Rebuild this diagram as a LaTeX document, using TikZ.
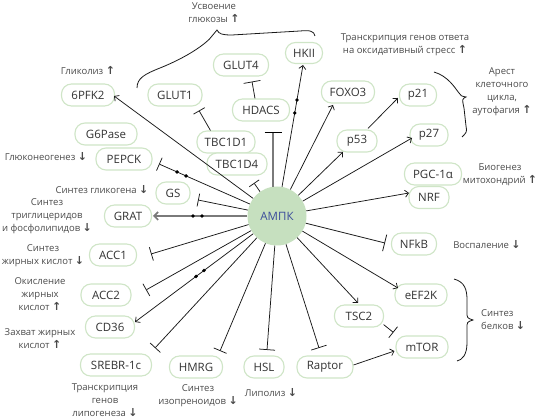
\documentclass[tikz,border=0pt]{standalone}
\usepackage{fontspec}
\setmainfont{Open Sans}
\newfontfamily\arrfont{DejaVu Sans}
\usetikzlibrary{arrows.meta,calc}
\definecolor{boxgreen}{HTML}{CFE5C7}
\definecolor{ampkfill}{HTML}{C6E0BF}
\definecolor{ampktext}{HTML}{3B4C9B}
\definecolor{txt}{HTML}{333333}
\definecolor{lbl}{HTML}{4A4A4A}
\definecolor{grayline}{HTML}{7A7A7A}
\newcommand\arrU{{\arrfont\bfseries\fontsize{11}{11}\selectfont\char"2191}}
\newcommand\arrD{{\arrfont\bfseries\fontsize{11}{11}\selectfont\char"2193}}
\begin{document}
\begin{tikzpicture}[x=1pt,y=-1pt,
  box/.style={draw=boxgreen,line width=1.1pt,rounded corners=10pt,fill=white,minimum height=22pt,inner sep=0pt,font=\fontsize{11.5}{13}\selectfont,text=txt},
  lab/.style={font=\fontsize{9.5}{13}\selectfont,text=lbl,align=center,inner sep=0pt},
  con/.style={line width=0.75pt,draw=black!90},
  act/.style={con,-{Straight Barb[length=3.5pt,width=7pt]}},
  inh/.style={con,-{Bar[width=14pt]}},
  grayact/.style={line width=1.6pt,draw=grayline,-{Straight Barb[length=4pt,width=8pt]}},
  grayinh/.style={line width=1.6pt,draw=grayline,-{Bar[width=17pt,line width=0.8pt,color=black]}},
  brace/.style={line width=0.8pt,draw=black!90}]
\useasboundingbox (0,0) rectangle (542,419);

% central node
\node[circle,fill=ampkfill,minimum size=59pt,inner sep=0pt,text=ampktext,font=\fontsize{11.5}{13}\selectfont] (ampk) at (277,216) {АМПК};

% boxes
\node[box,minimum width=53pt] (pfk) at (88,95) {6PFK2};
\node[box,minimum width=54pt] (glut1) at (175,95) {GLUT1};
\node[box,minimum width=55pt] (glut4) at (241,65) {GLUT4};
\node[box,minimum width=37pt,minimum height=21pt] (hkii) at (304,53) {HKII};
\node[box,minimum width=57pt] (hdacs) at (261,110) {HDACS};
\node[box,minimum width=53pt] (foxo) at (348,92) {FOXO3};
\node[box,minimum width=37pt] (p21) at (418,95) {p21};
\node[box,minimum width=38pt] (p27) at (429,135) {p27};
\node[box,minimum width=40pt] (p53) at (357,141) {p53};
\node[box,minimum width=57pt] (pgc) at (433,174) {PGC-1α};
\node[box,minimum width=40pt] (nrf) at (429,197.5) {NRF};
\node[box,minimum width=45pt] (nfkb) at (414,244) {NFkB};
\node[box,minimum width=52pt] (eef) at (421,295) {eEF2K};
\node[box,minimum width=49pt] (tsc) at (359,316) {TSC2};
\node[box,minimum width=52pt] (mtor) at (422,347) {mTOR};
\node[box,minimum width=56pt] (raptor) at (325,367) {Raptor};
\node[box,minimum width=40pt] (hsl) at (264,367) {HSL};
\node[box,minimum width=53pt] (hmrg) at (196,367) {HMRG};
\node[box,minimum width=71pt] (srebr) at (116,365) {SREBR-1c};
\node[box,minimum width=49pt] (cd36) at (110,327) {CD36};
\node[box,minimum width=50pt] (acc2) at (106,295) {ACC2};
\node[box,minimum width=47pt] (acc1) at (113,255) {ACC1};
\node[box,minimum width=47pt] (grat) at (128,216) {GRAT};
\node[box,minimum width=34pt] (gs) at (173,193) {GS};
\node[box,minimum width=62pt] (g6p) at (106,134) {G6Pase};
\node[box,minimum width=56pt] (pepck) at (124,159) {PEPCK};
\node[box,minimum width=58pt] (tbc1) at (226,142) {TBC1D1};
\node[box,minimum width=60pt] (tbc4) at (237,164) {TBC1D4};

% labels
\node[lab] (l-gly) at (88,71) {Гликолиз \arrU};
\node[lab] (l-glc) at (214,13) {Усвоение\\глюкозы \arrU};
\node[lab] (l-ox) at (405,44.5) {Транскрипция генов ответа\\на оксидативный стресс \arrU};
\node[lab] (l-cc) at (502,91.5) {Арест\\клеточного\\цикла,\\аутофагия \arrU};
\node[lab] (l-mit) at (500,174.5) {Биогенез\\митохондрий \arrU};
\node[lab] (l-inf) at (487,245) {Воспаление \arrD};
\node[lab,align=left,anchor=west] (l-prot) at (481,319.5) {Синтез\\белков \arrD};
\node[lab] (l-lip) at (271,393) {Липолиз \arrD};
\node[lab] (l-iso) at (198,395.5) {Синтез\\изопреноидов \arrD};
\node[lab] (l-lg) at (105,400.5) {Транскрипция\\генов\\липогенеза \arrD};
\node[lab] (l-fau) at (40,338.5) {Захват жирных\\кислот \arrU};
\node[lab] (l-fao) at (40,294) {Окисление\\жирных\\кислот \arrU};
\node[lab] (l-fas) at (43,256) {Синтез\\жирных кислот \arrD};
\node[lab] (l-tg) at (47,216) {Синтез\\триглицеридов\\и фосфолипидов \arrD};
\node[lab] (l-gs) at (102,190) {Синтез гликогена \arrD};
\node[lab] (l-gng) at (46,157) {Глюконеогенез \arrD};

% end coordinates
\coordinate (e-pfk) at (114,96);
\coordinate (e-pep) at (159,164);
\coordinate (e-gs) at (198,200);
\coordinate (e-grat) at (153,216);
\coordinate (e-acc1) at (151,254);
\coordinate (e-acc2) at (146,290);
\coordinate (e-cd36) at (135,322);
\coordinate (e-srebr) at (155,348);
\coordinate (e-hmrg) at (220,351);
\coordinate (e-hsl) at (267,350);
\coordinate (e-rap) at (319,348);
\coordinate (e-tsc) at (358,303);
\coordinate (e-eef) at (398,288);
\coordinate (e-nfkb) at (385,243);
\coordinate (e-pgc) at (409,193);
\coordinate (e-p27) at (412,138);
\coordinate (e-p53) at (343,152);
\coordinate (e-foxo) at (333,105);
\coordinate (e-hkii) at (303,65);
\coordinate (e-hd) at (273,132);
\coordinate (e-tbc4) at (254,183);

% connectors from AMPK
\draw[act] (ampk) -- (e-pfk);
\draw[inh] (ampk) -- (e-pep);
\fill ($(ampk.center)!0.847!(e-pep)$) circle[radius=1.9pt];
\fill ($(ampk.center)!0.771!(e-pep)$) circle[radius=1.9pt];
\draw[inh,-{Bar[width=13pt]}] (ampk) -- (e-gs);
\draw[grayact] (ampk) -- (e-grat);
\fill ($(ampk.center)!0.677!(e-grat)$) circle[radius=1.9pt];
\fill ($(ampk.center)!0.605!(e-grat)$) circle[radius=1.9pt];
\draw[inh] (ampk) -- (e-acc1);
\draw[inh] (ampk) -- (e-acc2);
\draw[act] (ampk) -- (e-cd36);
\fill ($(ampk.center)!0.570!(e-cd36)$) circle[radius=1.9pt];
\fill ($(ampk.center)!0.514!(e-cd36)$) circle[radius=1.9pt];
\draw[inh] (ampk) -- (e-srebr);
\draw[inh] (ampk) -- (e-hmrg);
\draw[inh,-{Bar[width=16pt]}] (ampk) -- (e-hsl);
\draw[inh,-{Bar[width=16pt]}] (ampk) -- (e-rap);
\draw[act] (ampk) -- (e-tsc);
\draw[act] (ampk) -- (e-eef);
\draw[inh,-{Bar[width=17pt]}] (ampk) -- (e-nfkb);
\draw[act] (ampk) -- (e-pgc);
\draw[act] (ampk) -- (e-p27);
\draw[act] (ampk) -- (e-p53);
\draw[act] (ampk) -- (e-foxo);
\draw[act] (ampk) -- (e-hkii);
\fill ($(ampk.center)!0.682!(e-hkii)$) circle[radius=1.9pt];
\fill ($(ampk.center)!0.768!(e-hkii)$) circle[radius=1.9pt];
\draw[grayinh] ($(ampk.north)+(-4,0.5)$) -- (e-hd);
\draw[inh,-{Bar[width=12pt]}] (ampk) -- (e-tbc4);

% secondary connectors
\coordinate (s-tbc1) at ($(tbc1.north west)+(14,0)$);
\coordinate (e-glut1) at ($(glut1.south)+(24,4)$);
\draw[inh,-{Bar[width=13pt]}] (s-tbc1) -- (e-glut1);
\coordinate (s-hd) at ($(hdacs.north)+(-6,0)$);
\coordinate (e-glut4) at ($(glut4.south)+(11,5)$);
\draw[inh,-{Bar[width=17pt]}] (s-hd) -- (e-glut4);
\coordinate (s-p53) at ($(p53.north)+(11,-1)$);
\coordinate (e-p21) at ($(p21.west)+(-1,3)$);
\draw[act] (s-p53) -- (e-p21);
\coordinate (s-tsc) at ($(tsc.south east)+(-0.5,-3)$);
\coordinate (e-mtor) at ($(mtor.north west)+(-2,-3)$);
\draw[inh] (s-tsc) -- (e-mtor);
\coordinate (s-rap) at ($(raptor.east)+(0,-2)$);
\coordinate (e-mtor2) at ($(mtor.west)+(-1,4)$);
\draw[act] (s-rap) -- (e-mtor2);

% braces
\draw[brace] (137,88) .. controls (137,78) and (145,74) .. (160,68)
  .. controls (190,56) and (208,42) .. (212,36)
  .. controls (214,33) .. (217,30)
  .. controls (219,34) and (222,35) .. (232,35)
  -- (300,31) .. controls (310,30) and (314,31) .. (315,36);
\draw[brace] (434,72) .. controls (448,76) and (455,88) .. (459,93)
  .. controls (461,96) .. (466,97)
  .. controls (462,99) .. (464,108) -- (466,126)
  .. controls (467,132) .. (462,137);
\draw[brace] (454,279) .. controls (465,282) and (467,290) .. (467,300)
  -- (467,312) .. controls (467,318) .. (473,320)
  .. controls (467,322) .. (467,328) -- (467,343)
  .. controls (467,355) and (462,360) .. (457,361);
\end{tikzpicture}
\end{document}
